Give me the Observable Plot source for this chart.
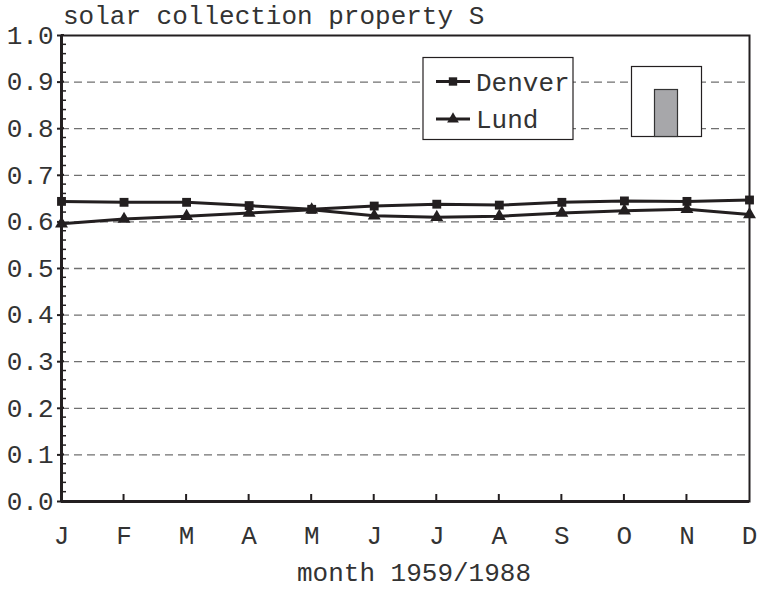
<!DOCTYPE html>
<html><head><meta charset="utf-8">
<script src="https://cdn.jsdelivr.net/npm/d3@7"></script>
<script src="https://cdn.jsdelivr.net/npm/@observablehq/plot@0.6"></script>
<style>body{margin:0;background:#fff}</style></head>
<body><div id="chart"></div>
<script>
const months = ["J","F","M","A","M","J","J","A","S","O","N","D"];
const denver = [0.644,0.642,0.642,0.635,0.627,0.634,0.638,0.636,0.642,0.645,0.644,0.647];
const lund   = [0.596,0.606,0.612,0.619,0.626,0.613,0.610,0.612,0.619,0.624,0.627,0.616];
const seriesNames = ["Denver","Lund"];
const yTicks = [0,0.1,0.2,0.3,0.4,0.5,0.6,0.7,0.8,0.9,1.0];
const yGrid = [0.1,0.2,0.3,0.4,0.5,0.6,0.7,0.8,0.9];
const yMinor = d3.range(0,101,2).map(d=>d/100).filter(v=>Math.round(v*100)%10!==0);
const titleText = "solar collection property S";
const xLabel = "month 1959/1988";

const font = "'Liberation Mono','Courier New',monospace";
const ink = "#231f20";
const fs = 26;

const dDen = denver.map((v,i)=>({i, v, s:seriesNames[0]}));
const dLund = lund.map((v,i)=>({i, v, s:seriesNames[1]}));

const plot = Plot.plot({
  width: 760, height: 589,
  marginLeft: 61, marginRight: 11, marginTop: 35, marginBottom: 88,
  style: {fontFamily: font, fontSize: fs+"px", color: "#333", background: "#fff"},
  x: {domain: [0, 11], label: null},
  y: {domain: [0, 1], label: null},
  marks: [
    Plot.gridY(yGrid, {stroke: "#707070", strokeOpacity: 1, strokeWidth: 1.3, strokeDasharray: "8,5"}),
    Plot.line(dDen, {x: "i", y: "v", stroke: ink, strokeWidth: 3}),
    Plot.line(dLund, {x: "i", y: "v", stroke: ink, strokeWidth: 3}),
    Plot.dot(dDen, {x: "i", y: "v", symbol: "square", r: 5, fill: ink, stroke: "none"}),
    Plot.dot(dLund, {x: "i", y: "v", symbol: "triangle", r: 4.8, fill: ink, stroke: "none"}),
    Plot.frame({stroke: ink, strokeWidth: 2}),
    Plot.ruleX([0], {stroke: ink, strokeWidth: 3}),
    Plot.ruleY([0], {stroke: ink, strokeWidth: 3}),
    Plot.axisY(yTicks, {tickSize: 4, tickPadding: 4, tickFormat: d3.format(".1f"), stroke: ink, strokeWidth: 2, fill: "#333"}),
    Plot.axisX(d3.range(12), {tickSize: 0, tickPadding: 24, tickFormat: i => months[i], fill: "#333"})
  ]
});

const svg = d3.select(plot);
const x = plot.scale("x"), y = plot.scale("y");
const x0 = x.apply(0);
yTicks.forEach(v => svg.append("line").attr("x1", x0).attr("x2", x0+3).attr("y1", y.apply(v)).attr("y2", y.apply(v)).attr("stroke", ink).attr("stroke-width", 2));
yMinor.forEach(v => svg.append("line").attr("x1", x0).attr("x2", x0+5).attr("y1", y.apply(v)).attr("y2", y.apply(v)).attr("stroke", ink).attr("stroke-width", 1.5));
const y0 = y.apply(0);
d3.range(1,11).forEach(i => svg.append("line").attr("x1", x.apply(i)).attr("x2", x.apply(i)).attr("y1", y0).attr("y2", y0-7).attr("stroke", ink).attr("stroke-width", 2));

svg.append("text").attr("x", 63).attr("y", 24).attr("text-anchor", "start").attr("font-family", font).attr("font-size", fs).attr("fill", "#333").text(titleText);
svg.append("text").attr("x", 414).attr("y", 581).attr("text-anchor", "middle").attr("font-family", font).attr("font-size", fs).attr("fill", "#333").text(xLabel);

const lg = svg.append("g");
lg.append("rect").attr("x", 423).attr("y", 57.5).attr("width", 150).attr("height", 82).attr("fill", "#fff").attr("stroke", ink).attr("stroke-width", 1.2);
const rows = [{name: seriesNames[0], sym: d3.symbolSquare, yy: 81.5, size: 70}, {name: seriesNames[1], sym: d3.symbolTriangle, yy: 119, size: 60}];
rows.forEach(r => {
  lg.append("line").attr("x1", 436).attr("x2", 470).attr("y1", r.yy).attr("y2", r.yy).attr("stroke", ink).attr("stroke-width", 3);
  lg.append("path").attr("d", d3.symbol(r.sym, r.size)()).attr("transform", `translate(453,${r.yy})`).attr("fill", ink);
  lg.append("text").attr("x", 476).attr("y", r.yy).attr("dy", "0.35em").attr("text-anchor", "start").attr("font-family", font).attr("font-size", fs).attr("fill", "#333").text(r.name);
});
const ic = svg.append("g");
ic.append("rect").attr("x", 631.5).attr("y", 66.5).attr("width", 70).attr("height", 70).attr("fill", "#fff").attr("stroke", ink).attr("stroke-width", 1.2);
ic.append("rect").attr("x", 654.5).attr("y", 89.5).attr("width", 23).attr("height", 47).attr("fill", "#a7a7aa").attr("stroke", "#333").attr("stroke-width", 1.2);

document.getElementById("chart").appendChild(plot);
</script></body></html>
